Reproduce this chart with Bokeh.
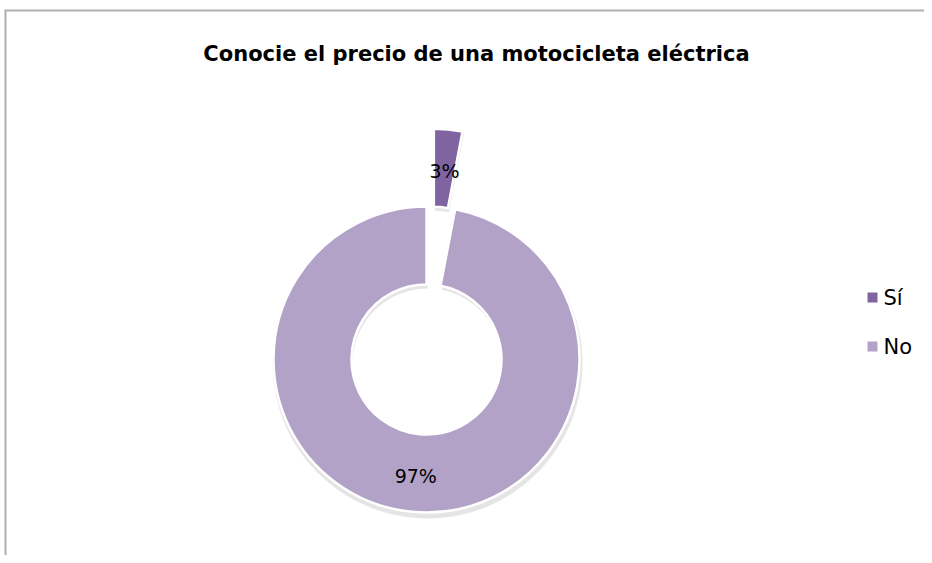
import math
from bokeh.plotting import figure
from bokeh.models import Range1d
from bokeh.core.properties import value
from bokeh.embed import file_html
from bokeh.resources import INLINE

title_text = "Conocie el precio de una motocicleta eléctrica"
categories = ["Sí", "No"]
percent = [3, 97]
colors = ["#8064A2", "#B3A2C7"]
explode = [78, 0]

W, H = 924, 555
p = figure(width=W, height=H, output_backend="svg", toolbar_location=None,
           x_range=Range1d(0, W), y_range=Range1d(0, H),
           min_border=0, outline_line_color=None)
p.axis.visible = False
p.grid.visible = False
p.background_fill_color = "white"
p.border_fill_color = "white"

def Y(py):
    return H - py

# chart border (top and left)
p.segment(x0=[4, 5], y0=[Y(10), Y(10)], x1=[W, 5], y1=[Y(10), Y(H)],
          line_color="#AFAFAF", line_width=2)

p.text(x=[476], y=[Y(53)], text=[title_text], text_font=value("DejaVu Sans"),
       text_font_size="21px", text_font_style="bold", text_align="center",
       text_baseline="middle", text_color="#000000")

cx, cy = 426, Y(359)
r_in, r_out = 75, 153
total = sum(percent)
start = 90.0
for cat, pct, col, ex in zip(categories, percent, colors, explode):
    sweep = pct / total * 360.0
    end = start - sweep
    mid = math.radians((start + end) / 2)
    x0 = cx + ex * math.cos(mid)
    y0 = cy + ex * math.sin(mid)
    # soft shadow
    p.annular_wedge(x=[x0 + 1], y=[y0 - 4], inner_radius=r_in, outer_radius=r_out + 2,
                    start_angle=math.radians(start), end_angle=math.radians(end),
                    direction="clock", fill_color="#000000", fill_alpha=0.10,
                    line_color=None)
    p.annular_wedge(x=[x0], y=[y0], inner_radius=r_in, outer_radius=r_out,
                    start_angle=math.radians(start), end_angle=math.radians(end),
                    direction="clock", fill_color=col, line_color="white", line_width=2.5)
    rl = (r_in + r_out) / 2
    p.text(x=[x0 + rl * math.cos(mid)], y=[y0 + rl * math.sin(mid) - 3],
           text=[f"{pct}%"], text_font=value("DejaVu Sans"), text_font_size="19px",
           text_align="center", text_baseline="middle", text_color="#000000")
    start = end

# legend
leg_y = [Y(297), Y(346)]
p.rect(x=[872] * len(categories), y=leg_y, width=10, height=10,
       fill_color=colors, line_color=None)
p.text(x=[883] * len(categories), y=leg_y, text=categories,
       text_font=value("DejaVu Sans"), text_font_size="21px",
       text_align="left", text_baseline="middle", text_color="#000000")

open("out.html", "w").write(file_html(p, INLINE))
